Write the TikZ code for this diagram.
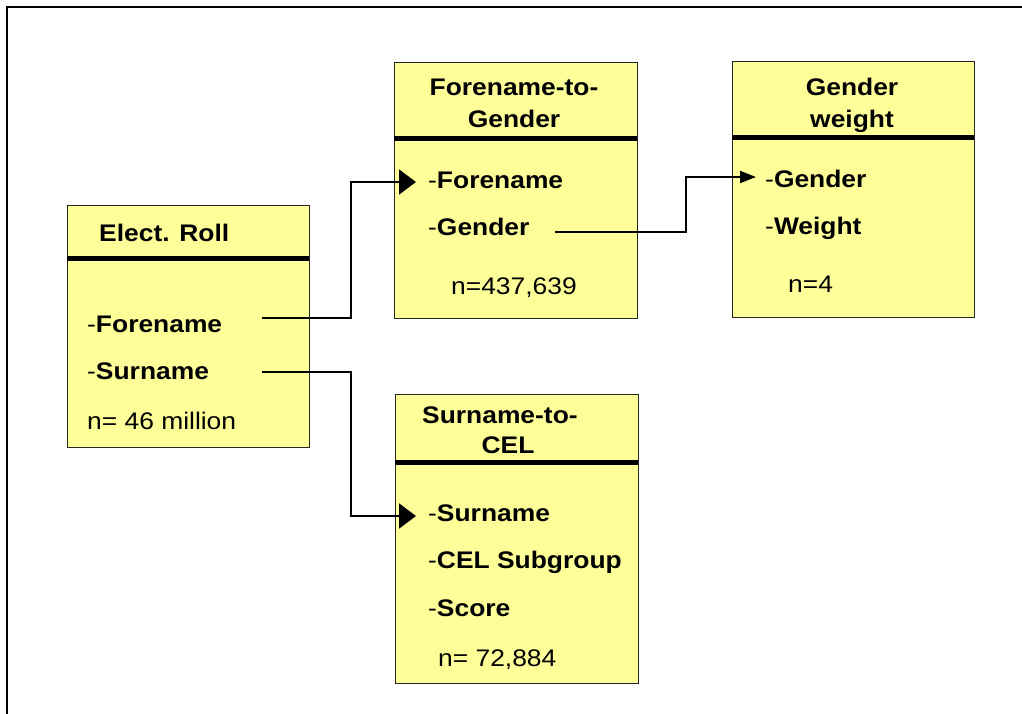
\documentclass[tikz,border=0pt]{standalone}
\usepackage{fontspec}
\setmainfont{Liberation Sans}[FakeStretch=1.1]
\usetikzlibrary{arrows.meta}
\definecolor{boxyellow}{HTML}{FFFF99}
\begin{document}
\begin{tikzpicture}[x=1pt,y=-1pt,
  tbl/.style={draw=black!85, line width=1.2pt, fill=boxyellow, anchor=north west, inner sep=0pt},
  divider/.style={line width=5pt, black},
  fld/.style={anchor=base west, inner sep=0pt, font=\fontsize{24}{28}\selectfont},
  ttl/.style={anchor=base, inner sep=0pt, font=\fontsize{24}{28}\selectfont\bfseries},
  conn/.style={line width=2pt, line join=miter},
  bigtip/.style={-{Triangle[length=17pt,width=25pt]}},
  smalltip/.style={-{Triangle[length=16pt,width=12pt]}},
  frame/.style={line width=2.2pt}
]
\useasboundingbox (0,0) rectangle (1022,713);
% outer frame (bottom and right edges lie outside the picture)
\draw[frame] (7,730) -- (7,7) -- (1040,7);

% tables
\node[tbl, minimum width=242pt, minimum height=242pt] (er) at (67,205) {};
\node[tbl, minimum width=243pt, minimum height=256pt] (ftg) at (394,62) {};
\node[tbl, minimum width=242pt, minimum height=256pt] (gw) at (732,61) {};
\node[tbl, minimum width=243pt, minimum height=289pt] (stc) at (395,394) {};

\draw[divider] (67,258.5) -- (309,258.5);
\draw[divider] (394,138) -- (637,138);
\draw[divider] (732,137) -- (974,137);
\draw[divider] (395,462) -- (638,462);

% Elect. Roll
\node[fld, font=\fontsize{24}{28}\selectfont\bfseries] (ert) at (99,241) {Elect. Roll};
\node[fld] (erF) at (87,332) {-\textbf{Forename}};
\node[fld] (erS) at (87,379) {-\textbf{Surname}};
\node[fld] (ern) at (87,429) {n= 46 million};

% Forename-to-Gender
\node[ttl] (ftgt1) at (514,95) {Forename-to-};
\node[ttl] (ftgt2) at (514,127) {Gender};
\node[fld] (ftgF) at (428,188) {-\textbf{Forename}};
\node[fld] (ftgG) at (428,235) {-\textbf{Gender}};
\node[fld] (ftgn) at (451,294) {n=437,639};

% Gender weight
\node[ttl] (gwt1) at (852,95) {Gender};
\node[ttl] (gwt2) at (852,127) {weight};
\node[fld] (gwG) at (765,187) {-\textbf{Gender}};
\node[fld] (gwW) at (765,234) {-\textbf{Weight}};
\node[fld] (gwn) at (788,292) {n=4};

% Surname-to-CEL
\node[fld, font=\fontsize{24}{28}\selectfont\bfseries] (stct1) at (422,423) {Surname-to-};
\node[ttl] (stct2) at (508,453) {CEL};
\node[fld] (stcS) at (428,521) {-\textbf{Surname}};
\node[fld] (stcC) at (428,568) {-\textbf{CEL Subgroup}};
\node[fld] (stcSc) at (428,616) {-\textbf{Score}};
\node[fld] (stcn) at (438,666) {n= 72,884};

% connector ends
\coordinate (erFs) at (262,318);
\coordinate (erSs) at (262,372);
\coordinate (ftgGs) at (555,232);
\coordinate (ftgFe) at (416,182);
\coordinate (stcSe) at (416,516);
\coordinate (gwGe) at (756,177);

\draw[conn,bigtip] (erFs) -- ++(89,0) |- (ftgFe);
\draw[conn,bigtip] (erSs) -- ++(89,0) |- (stcSe);
\draw[conn,smalltip] (ftgGs) -- ++(131,0) |- (gwGe);
\end{tikzpicture}
\end{document}
